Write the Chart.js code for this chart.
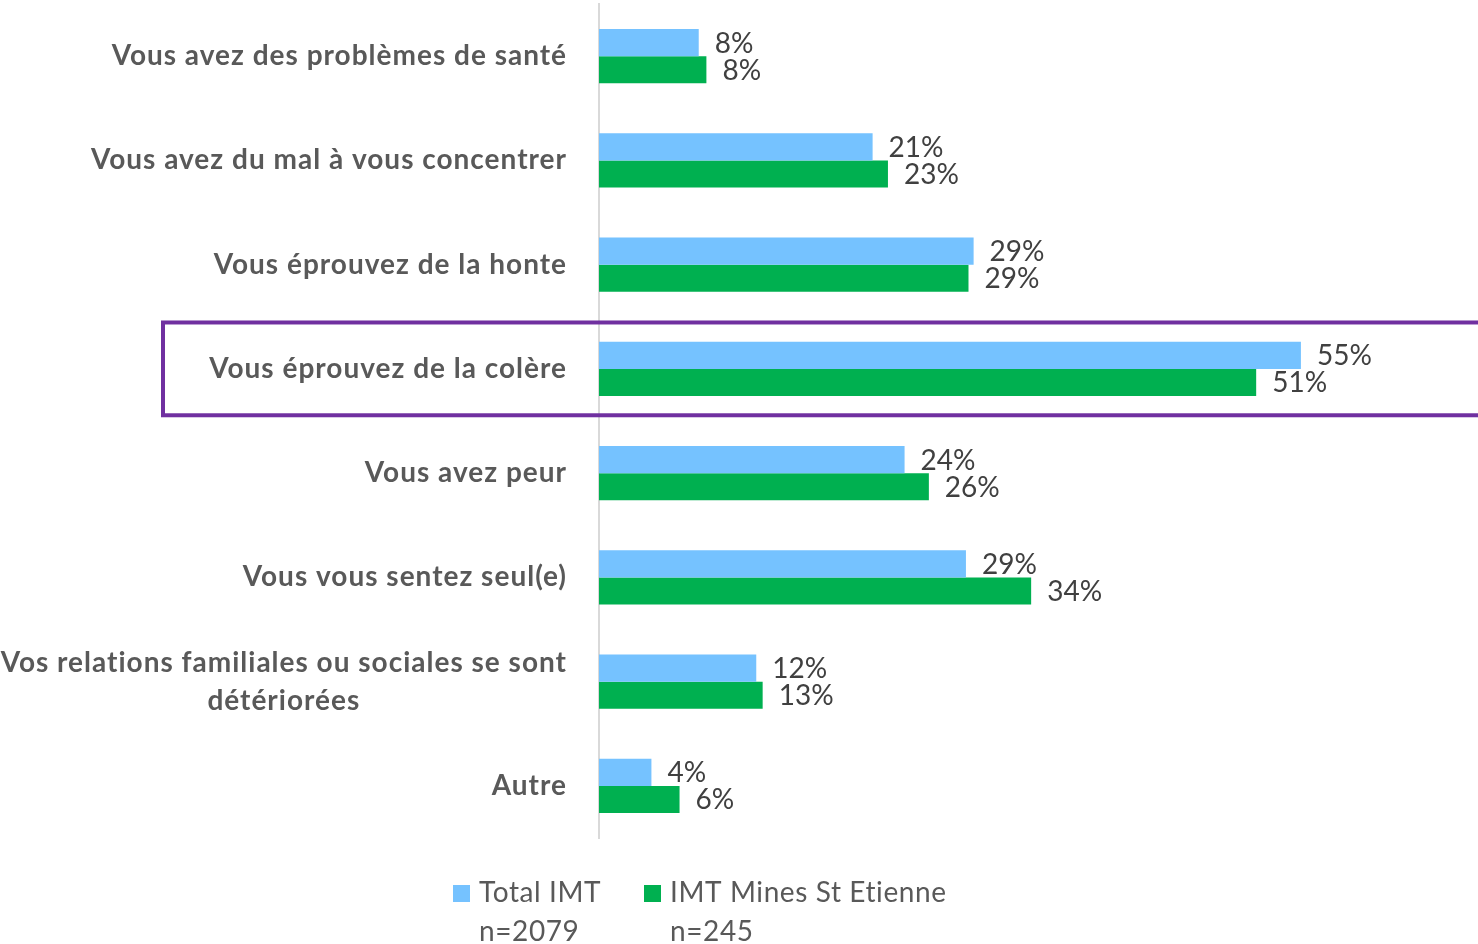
<!DOCTYPE html>
<html>
<head>
<meta charset="utf-8">
<script src="https://cdn.jsdelivr.net/npm/chart.js@4"></script>
<style>
  html, body { margin: 0; padding: 0; background: #fff; }
  #wrap { width: 1478px; height: 944px; }
</style>
</head>
<body>
<div id="wrap"><canvas id="chart" width="1478" height="944"></canvas></div>
<script>
// categories (top to bottom)
const categories = [
    'Vous avez des problèmes de santé',
    'Vous avez du mal à vous concentrer',
    'Vous éprouvez de la honte',
    'Vous éprouvez de la colère',
    'Vous avez peur',
    'Vous vous sentez seul(e)',
    ['Vos relations familiales ou sociales se sont', 'détériorées'],
    'Autre'
];

// valeurs en %
const totalImt = [7.8, 21.4, 29.3, 54.9, 23.9, 28.7, 12.3, 4.1];
const minesStEtienne = [8.4, 22.6, 28.9, 51.4, 25.8, 33.8, 12.8, 6.3];

const seriesNames = ['Total IMT', 'IMT Mines St Etienne'];
const seriesCounts = ['n=2079', 'n=245'];
const highlightIndex = 3;

const blue = '#75C2FF';
const green = '#00B050';
const labelFont = 'Lato, "Open Sans", sans-serif';

// étiquettes de catégories, à droite pour une ligne, centrées pour plusieurs lignes
const categoryLabels = {
    id: 'categoryLabels',
    afterDraw(chart) {
        const ctx = chart.ctx;
        const y = chart.scales.y;
        const right = 567;
        ctx.save();
        ctx.fillStyle = '#595959';
        ctx.font = 'bold 28px ' + labelFont;
        ctx.letterSpacing = '1px';
        ctx.textBaseline = 'middle';
        categories.forEach((cat, i) => {
            const cy = y.getPixelForValue(i);
            if (Array.isArray(cat)) {
                const w = Math.max(...cat.map(t => ctx.measureText(t).width));
                const cx = right - w / 2;
                const lh = 38;
                ctx.textAlign = 'center';
                cat.forEach((t, j) => {
                    ctx.fillText(t, cx, cy + (j - (cat.length - 1) / 2) * lh);
                });
            } else {
                ctx.textAlign = 'right';
                ctx.fillText(cat, right, cy);
            }
        });
        ctx.restore();
    }
};

// valeurs à droite des barres
const valueLabels = {
    id: 'valueLabels',
    afterDatasetsDraw(chart) {
        const ctx = chart.ctx;
        ctx.save();
        ctx.fillStyle = '#404040';
        ctx.font = '28px ' + labelFont;
        ctx.textAlign = 'left';
        ctx.textBaseline = 'middle';
        chart.data.datasets.forEach((ds, di) => {
            chart.getDatasetMeta(di).data.forEach((bar, i) => {
                ctx.fillText(Math.round(ds.data[i]) + '%', bar.x + 16, bar.y + 1);
            });
        });
        ctx.restore();
    }
};

// cadre violet autour de la ligne "colère"
const highlightBox = {
    id: 'highlightBox',
    afterDraw(chart) {
        const ctx = chart.ctx;
        const y = chart.scales.y;
        const band = (y.bottom - y.top) / categories.length;
        const cy = y.getPixelForValue(highlightIndex);
        ctx.save();
        ctx.strokeStyle = '#7030A0';
        ctx.lineWidth = 4;
        ctx.strokeRect(163, cy - band * 0.445, 1330, band * 0.89);
        ctx.restore();
    }
};

// légende sur deux lignes
const twoLineLegend = {
    id: 'twoLineLegend',
    afterDraw(chart) {
        const ctx = chart.ctx;
        const xs = [453, 644];
        ctx.save();
        ctx.font = '28px ' + labelFont;
        ctx.letterSpacing = '0.6px';
        ctx.textBaseline = 'middle';
        ctx.textAlign = 'left';
        chart.data.datasets.forEach((ds, i) => {
            ctx.fillStyle = ds.backgroundColor;
            ctx.fillRect(xs[i], 885, 17, 17);
            ctx.fillStyle = '#595959';
            ctx.fillText(seriesNames[i], xs[i] + 26, 893);
            ctx.fillText(seriesCounts[i], xs[i] + 26, 932);
        });
        ctx.restore();
    }
};

new Chart(document.getElementById('chart'), {
    type: 'bar',
    data: {
        labels: categories,
        datasets: [
            { label: seriesNames[0], data: totalImt, backgroundColor: blue },
            { label: seriesNames[1], data: minesStEtienne, backgroundColor: green }
        ]
    },
    options: {
        indexAxis: 'y',
        responsive: false,
        animation: false,
        categoryPercentage: 0.52,
        barPercentage: 1.0,
        layout: { padding: { left: 591, right: 0, top: 4, bottom: 106 } },
        plugins: {
            legend: { display: false },
            tooltip: { enabled: false }
        },
        scales: {
            x: { display: false, min: 0, max: 68.75 },
            y: {
                ticks: { display: false },
                grid: { display: false },
                border: { display: true, color: '#D9D9D9', width: 2 }
            }
        }
    },
    plugins: [categoryLabels, valueLabels, highlightBox, twoLineLegend]
});
</script>
</body>
</html>
